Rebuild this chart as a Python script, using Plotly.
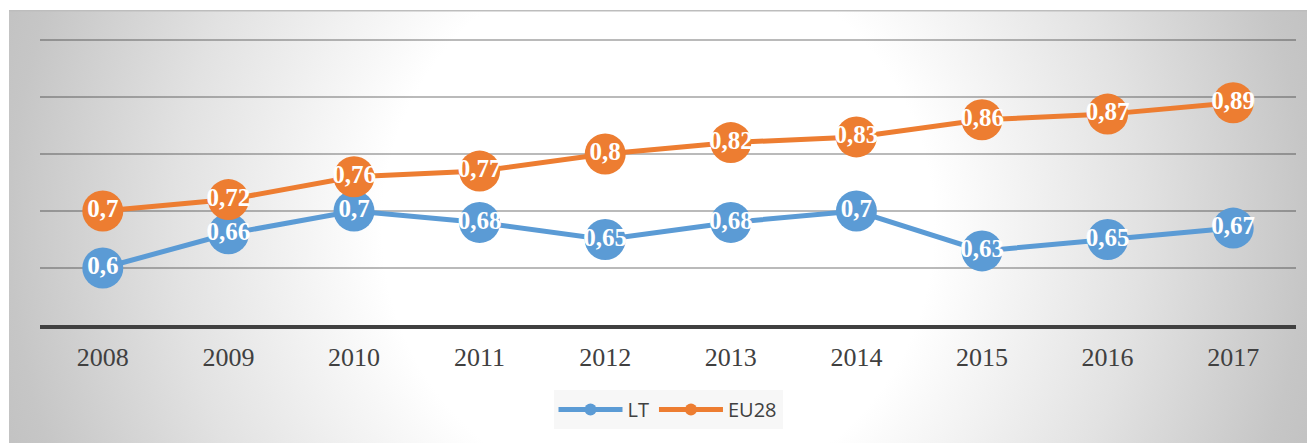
import base64
import plotly.graph_objects as go

years = ["2008", "2009", "2010", "2011", "2012", "2013", "2014", "2015", "2016", "2017"]
lt_values = [0.6, 0.66, 0.7, 0.68, 0.65, 0.68, 0.7, 0.63, 0.65, 0.67]
eu_values = [0.7, 0.72, 0.76, 0.77, 0.8, 0.82, 0.83, 0.86, 0.87, 0.89]
series_names = ["LT", "EU28"]

BLUE = "#5B9BD5"
ORANGE = "#ED7D31"

W, H = 1316, 443
Y_TOP_EXTRA = 0.0053
ML, MR, MT, MB = 40, 20, 37, 118
PW, PH = W - ML - MR, H - MT - MB

# background panel (radial gradient) as an inline svg
panel_x0, panel_y0, panel_x1, panel_y1 = 9, 10, 1307, 443
pw, ph = panel_x1 - panel_x0, panel_y1 - panel_y0
svg = f'''<svg xmlns="http://www.w3.org/2000/svg" width="{pw}" height="{ph}" viewBox="0 0 {pw} {ph}">
<defs><radialGradient id="g" gradientUnits="userSpaceOnUse" cx="{pw/2}" cy="{ph/2}" r="690">
<stop offset="0.40" stop-color="#ffffff"/>
<stop offset="0.70" stop-color="#e2e2e2"/>
<stop offset="0.94" stop-color="#c6c6c6"/>
<stop offset="1" stop-color="#c2c2c2"/>
</radialGradient></defs>
<rect x="0" y="0" width="{pw}" height="{ph}" fill="url(#g)"/>
<rect x="0" y="0" width="{pw}" height="1.5" fill="#bdbdbd"/>
</svg>'''
src = "data:image/svg+xml;base64," + base64.b64encode(svg.encode()).decode()


def fmt(v):
    return f"{v:g}".replace(".", ",")


fig = go.Figure()
for name, vals, col in [("LT", lt_values, BLUE), ("EU28", eu_values, ORANGE)]:
    fig.add_trace(go.Scatter(
        x=years, y=vals, name=name, mode="lines+markers",
        line=dict(color=col, width=5),
        marker=dict(color=col, size=41),
        cliponaxis=False,
    ))
for name, vals, col in [("LT", lt_values, BLUE), ("EU28", eu_values, ORANGE)]:
    fig.add_trace(go.Scatter(
        x=years, y=vals, mode="text", showlegend=False,
        text=[fmt(v) for v in vals], textposition="middle center",
        textfont=dict(family="Liberation Serif", size=25, color="white", weight="bold"),
        cliponaxis=False, hoverinfo="skip",
    ))

fig.add_layout_image(dict(
    source=src, xref="paper", yref="paper",
    x=(panel_x0 - ML) / PW, y=1 + (MT - panel_y0) / PH,
    sizex=pw / PW, sizey=ph / PH, xanchor="left", yanchor="top",
    sizing="stretch", layer="below",
))

fig.update_layout(
    width=W, height=H,
    margin=dict(l=ML, r=MR, t=MT, b=MB, pad=0),
    paper_bgcolor="white", plot_bgcolor="rgba(0,0,0,0)",
    showlegend=True,
    legend=dict(
        orientation="h", x=0.5, xanchor="center", y=-65 / PH, yanchor="top",
        bgcolor="#f7f7f7", font=dict(family="Open Sans", size=20, color="#404040"),
        itemsizing="constant", itemwidth=64, traceorder="normal",
        borderwidth=0,
    ),
    xaxis=dict(
        type="category", range=[-0.5, 9.5], showgrid=False, zeroline=False,
        showline=True, linecolor="#404040", linewidth=4,
        ticks="", ticklabelstandoff=6,
        tickfont=dict(family="Liberation Serif", size=26, color="#404040"),
    ),
    yaxis=dict(
        range=[0.5, 1.0 + Y_TOP_EXTRA], tick0=0.5, dtick=0.1, showticklabels=False,
        showgrid=True, gridcolor="rgba(0,0,0,0.27)", gridwidth=1.5,
        zeroline=False, showline=False,
    ),
)

fig.write_html("out.html", config={"displayModeBar": False},
               post_script="document.body.style.margin='0';")
